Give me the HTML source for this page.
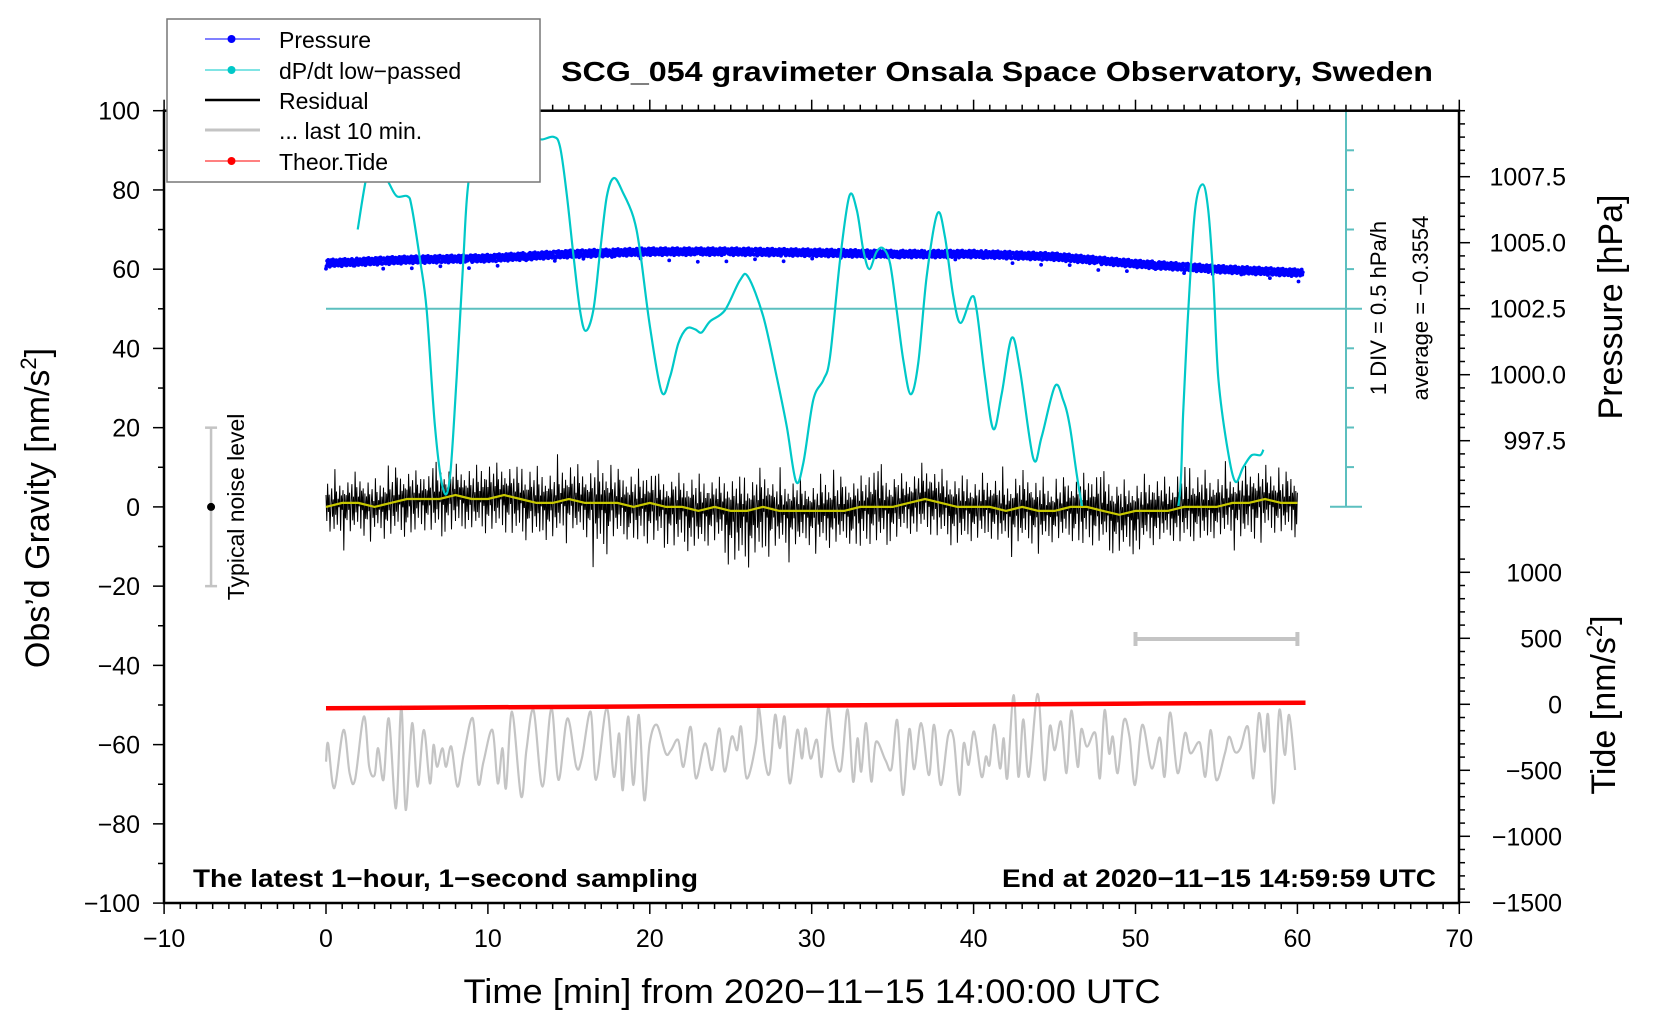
<!DOCTYPE html>
<html><head><meta charset="utf-8"><style>
html,body{margin:0;padding:0;background:#fff;}
svg{display:block;font-family:"Liberation Sans",Arial,sans-serif;}
</style></head>
<body>
<svg id="chart" width="1660" height="1020" viewBox="0 0 1660 1020" xmlns="http://www.w3.org/2000/svg">
<defs>
<clipPath id="plotClip"><rect x="164" y="110.7" width="1295" height="792.3"/></clipPath>
<clipPath id="cyanClip"><rect x="164" y="110.7" width="1295" height="395.3"/></clipPath>
</defs>
<g id="layer"></g>
</svg>
<script>
// ---------- data ----------
const xTicks=[-10,0,10,20,30,40,50,60,70];
const yTicks=[100,80,60,40,20,0,-20,-40,-60,-80,-100];
const pTicks=[1007.5,1005.0,1002.5,1000.0,997.5];
const tideTicks=[1000,500,0,-500,-1000,-1500];

const pT=[0,5,10,15,20,25,30,35,40,45,50,55,60];
const pV=[1004.22,1004.35,1004.41,1004.57,1004.66,1004.66,1004.62,1004.57,1004.57,1004.47,1004.2,1004.0,1003.86];

const dT=[1.96,2.51,3.0,3.85,4.37,5.02,5.29,5.81,6.22,6.73,7.25,7.66,8.07,8.48,8.79,9.5,11,12.5,13.2,14.04,14.45,14.86,15.27,15.69,16.04,16.51,16.92,17.34,17.79,18.36,18.98,19.39,20.01,20.73,21.25,21.76,22.28,22.79,23.2,23.72,24.64,25.57,26.08,27.01,27.84,28.46,29.03,29.48,30.1,30.72,31.13,31.75,32.32,32.78,33.19,33.56,34.01,34.42,34.84,35.25,35.66,36.11,36.58,37.1,37.76,38.23,38.75,39.2,39.88,40.19,40.7,41.22,41.74,42.35,42.86,43.69,44.2,45.02,45.53,45.95,46.56,47.5,49.5,51.5,52.64,52.95,53.26,53.68,54.15,54.49,54.8,55.11,55.63,56.15,56.66,57.18,57.7,57.9];
const dV=[1.00,1.67,1.9,1.60,1.42,1.42,1.29,0.61,-0.02,-1.49,-2.29,-2.12,-0.86,0.61,1.58,2.3,2.4,2.3,2.14,2.17,2.05,1.46,0.70,-0.02,-0.28,-0.02,0.70,1.41,1.65,1.46,1.16,0.74,-0.23,-1.05,-0.86,-0.44,-0.25,-0.26,-0.30,-0.16,-0.02,0.36,0.40,-0.10,-0.86,-1.49,-2.18,-1.95,-1.15,-0.90,-0.61,0.61,1.42,1.25,0.74,0.50,0.72,0.76,0.57,-0.02,-0.65,-1.08,-0.69,0.40,1.20,0.91,0.15,-0.18,0.15,-0.02,-0.86,-1.52,-1.07,-0.37,-0.77,-1.89,-1.62,-0.98,-1.15,-1.49,-2.33,-3.2,-3.5,-3.0,-2.5,-1.28,-0.02,1.25,1.57,1.25,0.40,-0.86,-1.70,-2.18,-2.00,-1.85,-1.85,-1.78];

const resHi=[10,9,11,10,12,11,10,13,11,12,14,12,11,13,12,14,13,15,12,13,12,11,12,13,11,13,12,14,11,12,10,13,12,11,15,12,11,13,12,11,10,12,11,13,12,10,11,12,14,12,11,13,12,14,13,12,11,13,12,11,12];
const resLo=[-10,-12,-11,-10,-12,-13,-11,-12,-13,-11,-12,-13,-14,-12,-13,-11,-12,-18,-13,-12,-14,-13,-15,-14,-13,-19,-20,-17,-14,-13,-12,-13,-12,-14,-13,-12,-11,-12,-13,-14,-12,-11,-12,-13,-12,-11,-12,-13,-12,-14,-15,-12,-11,-13,-12,-11,-12,-13,-12,-11,-12];
const yel=[0,1,1,0,1,2,2,2,3,2,2,3,2,1,1,2,1,1,1,0,1,0,0,-1,0,-1,-1,0,-1,-1,-1,-1,-1,0,0,0,1,2,1,0,0,0,-1,0,-1,-1,0,0,-1,-2,-1,-1,-1,0,0,0,1,1,2,1,1];

const grayT=[0,0.13,0.51,1.08,1.46,1.79,2.34,2.67,3.0,3.22,3.55,3.88,4.32,4.65,4.92,5.32,5.65,6.04,6.42,6.64,6.86,7.19,7.41,7.74,8.12,8.52,9.07,9.4,9.73,10.28,10.61,10.9,11.12,11.49,12.05,12.38,12.82,13.37,13.92,14.36,14.91,15.46,15.8,16.35,16.68,17.34,17.78,18.11,18.33,18.66,18.99,19.32,19.66,19.99,20.43,20.98,21.31,21.75,22.08,22.52,22.85,23.41,23.85,24.29,24.62,25.06,25.39,25.64,25.98,26.55,26.73,27.12,27.42,27.74,28.03,28.33,28.65,29.11,29.4,29.63,29.93,30.32,30.62,31.0,31.35,31.8,32.22,32.56,32.83,33.06,33.36,33.68,33.97,34.55,34.93,35.28,35.64,36.03,36.33,36.76,37.24,37.56,37.97,38.43,38.77,39.12,39.39,39.69,40.03,40.49,40.76,40.99,41.28,41.63,41.86,42.08,42.47,42.77,43.07,43.41,43.96,44.37,44.71,45.01,45.4,45.74,46.04,46.43,46.65,47.0,47.52,47.8,48.09,48.37,48.6,48.9,49.28,49.63,49.97,50.42,51.0,51.5,51.8,52.14,52.6,53.06,53.4,53.97,54.31,54.65,54.99,55.52,55.79,56.14,56.48,56.94,57.28,57.62,57.96,58.19,58.53,58.88,59.22,59.49,59.86];
const grayV=[-64.3,-59.7,-71.0,-56.3,-67.2,-68.9,-52.9,-65.6,-67.7,-60.9,-68.9,-53.4,-76.1,-50.4,-76.5,-54.6,-70.6,-56.3,-69.8,-60.1,-65.6,-60.9,-65.6,-60.5,-70.6,-62.2,-53.4,-69.8,-64.3,-56.3,-69.8,-60.9,-71.0,-51.7,-73.1,-61.4,-51.3,-70.6,-50.8,-68.9,-53.4,-65.6,-63.5,-51.7,-68.9,-50.8,-68.1,-57.2,-71.5,-52.9,-70.2,-52.5,-74.0,-59.7,-55.0,-62.2,-61.4,-58.8,-65.6,-55.5,-68.5,-59.7,-66.4,-55.9,-66.8,-58.0,-61.4,-55.5,-68.5,-59.7,-50.4,-64.3,-66.8,-52.5,-60.9,-53.0,-69.8,-56.3,-63.5,-55.9,-63.5,-58.8,-68.1,-50.8,-61.4,-66.4,-51.1,-69.3,-58.4,-66.8,-54.6,-69.3,-59.3,-63.9,-66.0,-53.8,-72.7,-56.1,-66.2,-54.6,-67.7,-55.0,-70.2,-57.6,-58.4,-72.7,-59.7,-65.1,-56.7,-68.1,-63.0,-65.1,-55.0,-66.0,-58.4,-68.5,-47.5,-68.1,-53.6,-68.1,-47.2,-68.9,-55.3,-61.4,-54.2,-67.2,-51.4,-65.6,-56.1,-60.5,-57.1,-68.5,-51.3,-62.2,-58.0,-67.2,-53.9,-58.0,-70.2,-55.0,-66.0,-58.2,-68.1,-51.9,-67.2,-57.1,-62.2,-59.5,-68.1,-56.3,-68.9,-62.2,-58.0,-61.8,-60.9,-55.5,-68.5,-52.1,-61.8,-52.5,-74.8,-51.3,-62.6,-52.5,-66.4];

const tideT=[0,10,20,30,40,50,60.5];
const tideV=[-30,-23,-16,-9,-2,5,12];

// ---------- axes functions ----------
const X=t=>326+t*16.19;
const YG=v=>110.7+(100-v)*3.962;
const YP=p=>176.7+(1007.5-p)*26.4;
const YT=v=>704.3-v*0.132;
const YD=d=>308.7-d*79.2;
const NS="http://www.w3.org/2000/svg";
const layer=document.getElementById('layer');
function mk(tag,attrs,parent){const e=document.createElementNS(NS,tag);for(const k in attrs)e.setAttribute(k,attrs[k]);(parent||layer).appendChild(e);return e;}
function interp(ts,vs,t){if(t<=ts[0])return vs[0];for(let i=1;i<ts.length;i++){if(t<=ts[i]){const f=(t-ts[i-1])/(ts[i]-ts[i-1]);return vs[i-1]+f*(vs[i]-vs[i-1]);}}return vs[vs.length-1];}
function smoothPath(pts){let d='M'+pts[0][0].toFixed(1)+','+pts[0][1].toFixed(1);for(let i=0;i<pts.length-1;i++){const p0=pts[i-1]||pts[i],p1=pts[i],p2=pts[i+1],p3=pts[i+2]||p2;const c1=[p1[0]+(p2[0]-p0[0])/6,p1[1]+(p2[1]-p0[1])/6],c2=[p2[0]-(p3[0]-p1[0])/6,p2[1]-(p3[1]-p1[1])/6];d+=' C'+c1.map(v=>v.toFixed(1))+' '+c2.map(v=>v.toFixed(1))+' '+p2.map(v=>v.toFixed(1));}return d;}

// ---------- series groups ----------
const gPlot=mk('g',{'clip-path':'url(#plotClip)'});



const zl=mk('line',{x1:X(0),x2:1362,y1:YD(0),y2:YD(0),stroke:'#5cbfbf','stroke-width':2},layer);



const cAx=mk('g',{stroke:'#5cbfbf','stroke-width':2});


mk('line',{x1:1346,x2:1346,y1:YD(2.5),y2:YD(-2.5)},cAx);
mk('line',{x1:1330,x2:1362,y1:YD(2.5),y2:YD(2.5)},cAx);
mk('line',{x1:1330,x2:1362,y1:YD(-2.5),y2:YD(-2.5)},cAx);
for(let d=-2;d<=2;d+=0.5){if(Math.abs(d)<0.01)continue;mk('line',{x1:1346,x2:1354,y1:YD(d),y2:YD(d)},cAx);}

// pressure dots
const gP=mk('g',{fill:'#0000ff'},gPlot);


const pj=[0.05,-0.12,0.1,-0.03,0.14,-0.08,0.02,-0.15,0.08,0.12,-0.06,0.0,-0.1,0.15,-0.02,0.06,-0.13,0.09,-0.05,0.11,-0.09,0.03];
for(let i=0;i<=1810;i++){const t=i*2/60;const p=interp(pT,pV,t)+pj[i%pj.length]*0.9-(i%53==0?0.25:0);mk('circle',{cx:X(t).toFixed(1),cy:YP(p).toFixed(1),r:1.9},gP);}

// cyan dP/dt
const cyan=mk('path',{d:smoothPath(dT.map((t,i)=>[X(t),YD(dV[i])])),fill:'none',stroke:'#00c8c8','stroke-width':2.2,'clip-path':'url(#cyanClip)'});



// residual
const pat=[0.3,-0.5,0.8,-0.2,0.4,-0.9,0.1,0.6,-0.4,0.2,-0.7,1.0,-0.3,0.5,-0.6,0.2,-0.1,0.7,-0.8,0.3,-0.2,0.5,-1.0,0.35,-0.45];
let rp=[];
for(let i=0;i<=1200;i++){const t=i*3/60;const k=Math.min(60,Math.round(t));const y0=interp([...Array(61).keys()],yel,t);const q=pat[i%pat.length]*(i%11==0?1:0.72);const v=y0+(q>=0?q*resHi[k]:-q*resLo[k]);rp.push(X(t).toFixed(1)+','+YG(v).toFixed(1));}
const res=mk('polyline',{points:rp.join(' '),fill:'none',stroke:'#000','stroke-width':1},gPlot);


const yl=mk('polyline',{points:yel.map((v,i)=>X(i).toFixed(1)+','+YG(v).toFixed(1)).join(' '),fill:'none',stroke:'#c8c800','stroke-width':2.2},gPlot);



const gl=mk('path',{d:smoothPath(grayT.map((t,i)=>[X(t),YG(grayV[i])])),fill:'none',stroke:'#c4c4c4','stroke-width':2.2},gPlot);



const td=mk('polyline',{points:tideT.map((t,i)=>X(t).toFixed(1)+','+YT(tideV[i]).toFixed(1)).join(' '),fill:'none',stroke:'#ff0000','stroke-width':4.5},gPlot);



const bar=mk('g',{stroke:'#c4c4c4','stroke-width':4});


mk('line',{x1:X(50),x2:X(60),y1:639,y2:639},bar);
mk('line',{x1:X(50),x2:X(50),y1:632,y2:646},bar);
mk('line',{x1:X(60),x2:X(60),y1:632,y2:646},bar);

const nz=mk('g',{});


mk('line',{x1:X(-7.1),x2:X(-7.1),y1:YG(20),y2:YG(-20),stroke:'#c4c4c4','stroke-width':2.5},nz);
mk('line',{x1:X(-7.1)-6,x2:X(-7.1)+6,y1:YG(20),y2:YG(20),stroke:'#c4c4c4','stroke-width':2.5},nz);
mk('line',{x1:X(-7.1)-6,x2:X(-7.1)+6,y1:YG(-20),y2:YG(-20),stroke:'#c4c4c4','stroke-width':2.5},nz);
mk('circle',{cx:X(-7.1),cy:YG(0),r:4,fill:'#000'},nz);
const nt=mk('text',{x:0,y:0,transform:`translate(244,${YG(0)}) rotate(-90)`,'text-anchor':'middle','font-size':23},nz);
nt.textContent='Typical noise level';

// ---------- frame & ticks ----------
const ax=mk('g',{stroke:'#000','stroke-width':1.5});


mk('rect',{x:164,y:110.7,width:1295,height:792.3,fill:'none','stroke-width':2.5},ax);
for(let t=-10;t<=70;t++){const mj=t%10==0;mk('line',{x1:X(t),x2:X(t),y1:903,y2:903+(mj?11:6)},ax);mk('line',{x1:X(t),x2:X(t),y1:110.7,y2:110.7-(mj?11:6)},ax);}
for(let v=-100;v<=100;v+=10){const mj=v%20==0;mk('line',{x1:164,x2:164-(mj?11:6),y1:YG(v),y2:YG(v)},ax);}
for(let p=1010;p>=994.5;p-=0.5){const mj=Math.abs((p*2)%5)<0.01&&p<=1007.5;mk('line',{x1:1459,x2:1459+(mj?11:6),y1:YP(p),y2:YP(p)},ax);}
for(let v=1100;v>=-1500;v-=100){const mj=v%500==0;mk('line',{x1:1459,x2:1459+(mj?11:6),y1:YT(v),y2:YT(v)},ax);}

const lab=mk('g',{'font-size':25,fill:'#000'});


const fmt=v=>(v<0?'\u2212'+Math.abs(v):''+v);
xTicks.forEach(t=>{const e=mk('text',{x:X(t),y:947,'text-anchor':'middle'},lab);e.textContent=fmt(t);});
yTicks.forEach(v=>{const e=mk('text',{x:140,y:YG(v)+9,'text-anchor':'end'},lab);e.textContent=fmt(v);});
pTicks.forEach(p=>{const e=mk('text',{x:1566,y:YP(p)+9,'text-anchor':'end'},lab);e.textContent=p.toFixed(1);});
tideTicks.forEach(v=>{const e=mk('text',{x:1562,y:YT(v)+9,'text-anchor':'end'},lab);e.textContent=fmt(v);});
</script>

<svg style="position:absolute;left:0;top:0" width="1660" height="1020">
<g font-family="Liberation Sans, Arial, sans-serif">
<text x="997" y="81" text-anchor="middle" font-size="28" font-weight="bold" textLength="872" lengthAdjust="spacingAndGlyphs">SCG_054 gravimeter Onsala Space Observatory, Sweden</text>
<text x="812" y="1003" text-anchor="middle" font-size="34" textLength="697" lengthAdjust="spacingAndGlyphs">Time [min] from 2020−11−15 14:00:00 UTC</text>
<text transform="translate(49,508) rotate(-90)" text-anchor="middle" font-size="34">Obs’d Gravity [nm/s<tspan dy="-13" font-size="22">2</tspan><tspan dy="13">]</tspan></text>
<text transform="translate(1622,307) rotate(-90)" text-anchor="middle" font-size="34">Pressure [hPa]</text>
<text transform="translate(1615,705) rotate(-90)" text-anchor="middle" font-size="34">Tide [nm/s<tspan dy="-13" font-size="22">2</tspan><tspan dy="13">]</tspan></text>
<text transform="translate(1386,308) rotate(-90)" text-anchor="middle" font-size="22">1 DIV = 0.5 hPa/h</text>
<text transform="translate(1428,308) rotate(-90)" text-anchor="middle" font-size="22">average = −0.3554</text>
<text x="193" y="887" font-size="25" font-weight="bold" textLength="505" lengthAdjust="spacingAndGlyphs">The latest 1−hour, 1−second sampling</text>
<text x="1436" y="887" text-anchor="end" font-size="25" font-weight="bold" textLength="434" lengthAdjust="spacingAndGlyphs">End at 2020−11−15 14:59:59 UTC</text>
<g>
<rect x="167" y="19" width="373" height="163" fill="#fff" stroke="#777" stroke-width="1.5"/>
<g><line x1="205" x2="260" y1="39" y2="39" stroke="#0000ff" stroke-width="1"/><circle cx="231.5" cy="39" r="4" fill="#0000ff"/><text x="279" y="48" font-size="23">Pressure</text></g>
<g><line x1="205" x2="260" y1="70" y2="70" stroke="#00c8c8" stroke-width="1"/><circle cx="231.5" cy="70" r="4" fill="#00c8c8"/><text x="279" y="79" font-size="23">dP/dt low−passed</text></g>
<g><line x1="205" x2="260" y1="100" y2="100" stroke="#000" stroke-width="2.5"/><text x="279" y="109" font-size="23">Residual</text></g>
<g><line x1="205" x2="260" y1="130" y2="130" stroke="#c4c4c4" stroke-width="3"/><text x="279" y="139" font-size="23">... last 10 min.</text></g>
<g><line x1="205" x2="260" y1="161" y2="161" stroke="#ff0000" stroke-width="1"/><circle cx="231.5" cy="161" r="4" fill="#ff0000"/><text x="279" y="170" font-size="23">Theor.Tide</text></g>
</g>
</g>
</svg>
</body></html>
